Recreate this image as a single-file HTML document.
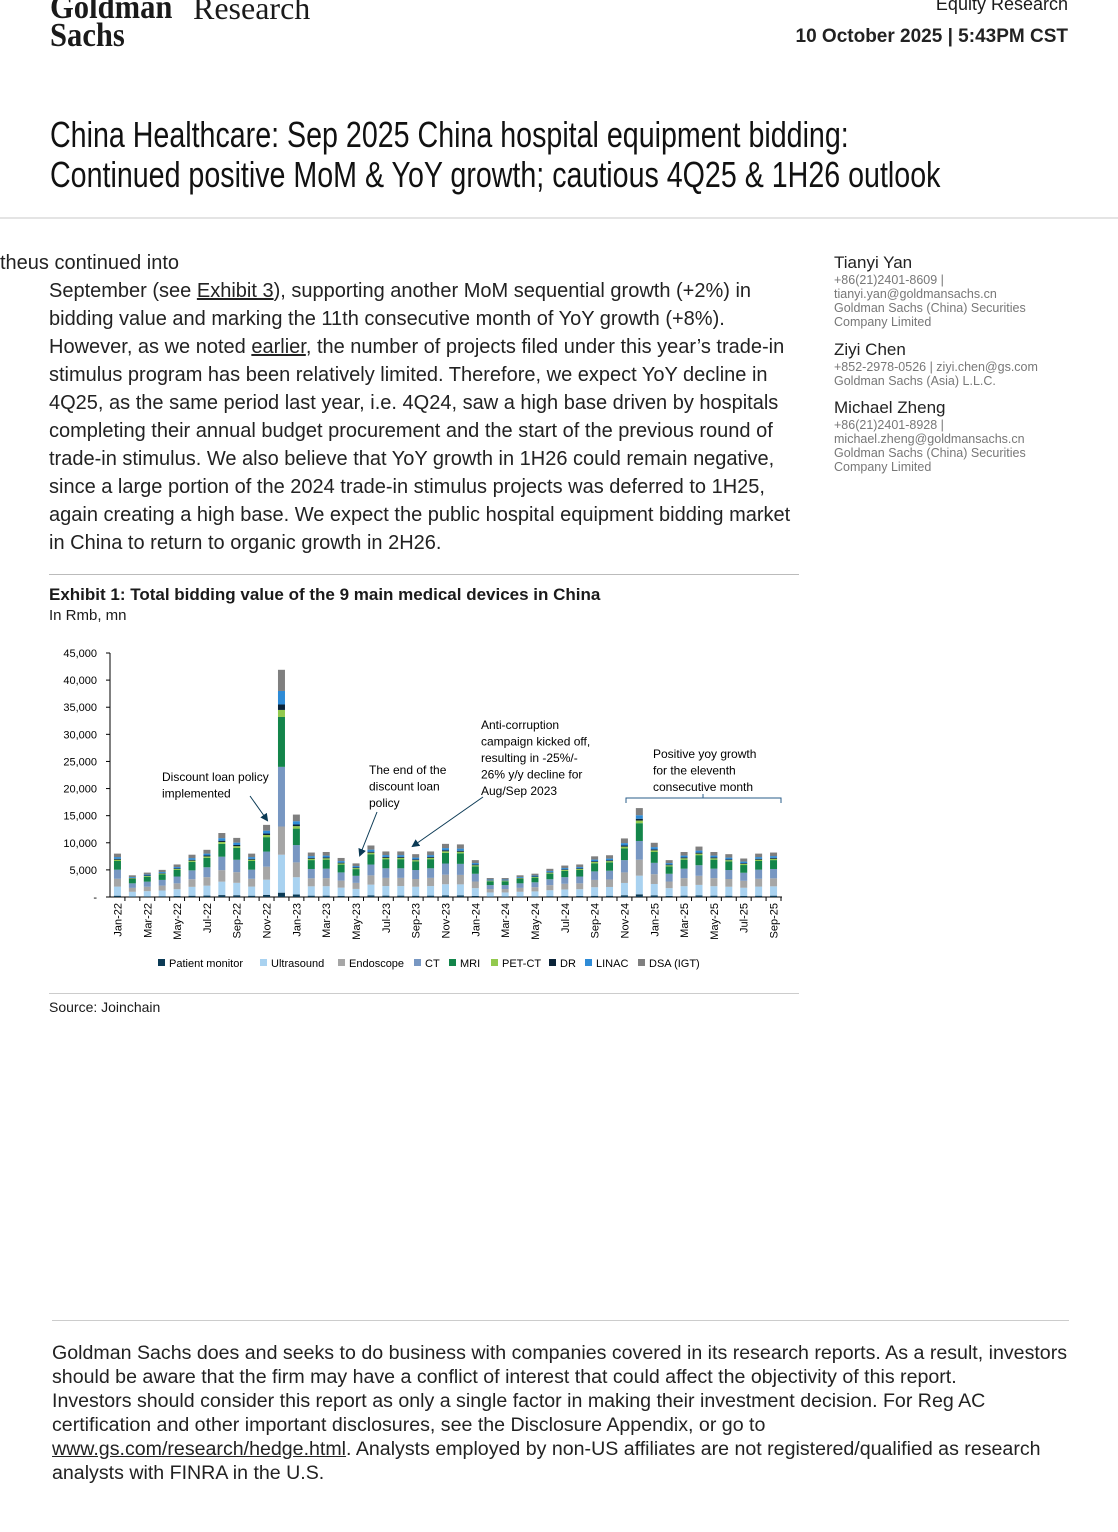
<!DOCTYPE html>
<html><head><meta charset="utf-8">
<style>
body{margin:0;width:1118px;height:1532px;background:#fff;font-family:"Liberation Sans",sans-serif;color:#1a1a1a;position:relative;overflow:hidden}
.a{position:absolute;white-space:nowrap}
.logo{font-family:"Liberation Serif",serif;font-weight:bold;font-size:34px;line-height:28px;transform:scaleX(0.9);transform-origin:left}
.title{left:50px;font-size:36px;transform:scaleX(0.795);transform-origin:left;color:#111}
.body{left:49px;font-size:20px;line-height:28px;color:#222}
.auth{left:834px;font-size:12.5px;line-height:14px;color:#777}
.auth b{font-size:17px;color:#222;font-weight:normal;display:block;line-height:20px}
u{text-decoration:underline}
</style></head><body>
<div class="a logo" style="left:50px;top:-6px">Goldman<br>Sachs</div>
<div class="a" style="left:193px;top:-10px;font-family:'Liberation Serif',serif;font-size:32px">Research</div>
<div class="a" style="right:50px;top:-6px;font-size:18px">Equity Research</div>
<div class="a" style="right:50px;top:26px;font-size:19px;font-weight:bold;color:#222">10 October 2025 | 5:43PM CST</div>
<div class="a title" style="top:114px">China Healthcare: Sep 2025 China hospital equipment bidding:</div>
<div class="a title" style="top:154px">Continued positive MoM &amp; YoY growth; cautious 4Q25 &amp; 1H26 outlook</div>
<div class="a" style="left:0;top:217px;width:1118px;height:2px;background:#e4e4e4"></div>
<div class="a body" style="left:0;top:249px">theus continued into</div>
<div class="a body" style="top:277px">September (see <u>Exhibit 3</u>), supporting another MoM sequential growth (+2%) in<br>bidding value and marking the 11th consecutive month of YoY growth (+8%).<br>However, as we noted <u>earlier</u>, the number of projects filed under this year’s trade-in<br>stimulus program has been relatively limited. Therefore, we expect YoY decline in<br>4Q25, as the same period last year, i.e. 4Q24, saw a high base driven by hospitals<br>completing their annual budget procurement and the start of the previous round of<br>trade-in stimulus. We also believe that YoY growth in 1H26 could remain negative,<br>since a large portion of the 2024 trade-in stimulus projects was deferred to 1H25,<br>again creating a high base. We expect the public hospital equipment bidding market<br>in China to return to organic growth in 2H26.</div>
<div class="a auth" style="top:253px"><b>Tianyi Yan</b>+86(21)2401-8609 |<br>tianyi.yan@goldmansachs.cn<br>Goldman Sachs (China) Securities<br>Company Limited</div>
<div class="a auth" style="top:340px"><b>Ziyi Chen</b>+852-2978-0526 | ziyi.chen@gs.com<br>Goldman Sachs (Asia) L.L.C.</div>
<div class="a auth" style="top:398px"><b>Michael Zheng</b>+86(21)2401-8928 |<br>michael.zheng@goldmansachs.cn<br>Goldman Sachs (China) Securities<br>Company Limited</div>
<div class="a" style="left:49px;top:574px;width:750px;height:1px;background:#bbb"></div>
<div class="a" style="left:49px;top:585px;font-size:17px;font-weight:bold">Exhibit 1: Total bidding value of the 9 main medical devices in China</div>
<div class="a" style="left:49px;top:607px;font-size:15px">In Rmb, mn</div>
<svg class="a" style="left:0;top:0" width="1118" height="1000" id="ch"></svg>
<div class="a" style="left:49px;top:993px;width:750px;height:1px;background:#ccc"></div>
<div class="a" style="left:49px;top:999px;font-size:14px">Source: Joinchain</div>
<div class="a" style="left:52px;top:1320px;width:1017px;height:1px;background:#ccc"></div>
<div class="a" style="left:52px;top:1341px;font-size:19.6px;line-height:24px;color:#222">Goldman Sachs does and seeks to do business with companies covered in its research reports. As a result, investors<br>should be aware that the firm may have a conflict of interest that could affect the objectivity of this report.<br>Investors should consider this report as only a single factor in making their investment decision. For Reg AC<br>certification and other important disclosures, see the Disclosure Appendix, or go to<br><u>www.gs.com/research/hedge.html</u>. Analysts employed by non-US affiliates are not registered/qualified as research<br>analysts with FINRA in the U.S.</div>
<script>
var T=[8,4,4.5,5,6,7.8,8.7,11.8,10.9,8,13.3,42,15.2,8.2,8.3,7.2,6.2,9.5,8.4,8.4,7.9,8.4,9.8,9.7,6.8,3.5,3.5,4,4.3,5.2,5.8,6,7.5,7.7,10.8,16.4,10,6.8,8.3,9.3,8.3,7.9,7.1,8.0,8.2];
var C=['#0b3a55','#a9d2f0','#a6a6a6','#7897c2','#13854a','#92c94e','#0a2338','#2e8bd6','#7f7f7f'];
var F=[.03,.21,.18,.21,.2,.03,.02,.04,.08];
var D=[.8,7,5.2,11,9.2,1.3,1,2.5,3.9];
var s='',x0=110,y0=897,k=244/45,sw=671/45;
var yl=['-','5,000','10,000','15,000','20,000','25,000','30,000','35,000','40,000','45,000'];
for(var i=0;i<10;i++){var y=y0-i*5*k;s+='<line x1="106" x2="110" y1="'+y+'" y2="'+y+'" stroke="#000"/><text x="97" y="'+(y+4)+'" text-anchor="end" font-size="11" font-family="Liberation Sans">'+yl[i]+'</text>';}
s+='<line x1="110" x2="110" y1="653" y2="897" stroke="#000"/><line x1="110" x2="782" y1="897" y2="897" stroke="#000"/>';
var mn=['Jan','Mar','May','Jul','Sep','Nov'];
for(var j=0;j<45;j++){var cx=x0+sw*(j+.5),y=y0;var fr=j==11?D.map(function(v){return v/42}):F;
for(var c=0;c<9;c++){var h=T[j]*fr[c]*k;y-=h;s+='<rect x="'+(cx-3.5)+'" y="'+y+'" width="7" height="'+h+'" fill="'+C[c]+'"/>';}
s+='<line x1="'+(x0+sw*(j+1))+'" x2="'+(x0+sw*(j+1))+'" y1="897" y2="901" stroke="#000"/>';
if(j%2==0){var yr=22+Math.floor(j/12);s+='<text transform="translate('+(cx+4)+',903) rotate(-90)" text-anchor="end" font-size="11" font-family="Liberation Sans">'+mn[(j%12)/2]+'-'+yr+'</text>';}}
var lg=['Patient monitor','Ultrasound','Endoscope','CT','MRI','PET-CT','DR','LINAC','DSA (IGT)'],lx=[158,260,338,414,449,491,549,585,638];
for(var c=0;c<9;c++){s+='<rect x="'+lx[c]+'" y="959" width="7" height="7" fill="'+C[c]+'"/><text x="'+(lx[c]+11)+'" y="967" font-size="11" font-family="Liberation Sans">'+lg[c]+'</text>';}
function tx(x,y,a){a.forEach(function(t,i){s+='<text x="'+x+'" y="'+(y+i*16.5)+'" font-size="12" font-family="Liberation Sans">'+t+'</text>';});}
tx(162,781,['Discount loan policy','implemented']);
tx(369,774,['The end of the','discount loan','policy']);
tx(481,729,['Anti-corruption','campaign kicked off,','resulting in -25%/-','26% y/y decline for','Aug/Sep 2023']);
tx(653,758,['Positive yoy growth','for the eleventh','consecutive month']);
s+='<defs><marker id="m" markerWidth="8" markerHeight="8" refX="6" refY="4" orient="auto"><path d="M0,0L8,4L0,8z" fill="#0b3a55"/></marker></defs>';
s+='<line x1="250" y1="796" x2="267" y2="820" stroke="#0b3a55" marker-end="url(#m)"/>';
s+='<line x1="377" y1="812" x2="360" y2="855" stroke="#0b3a55" marker-end="url(#m)"/>';
s+='<line x1="483" y1="797" x2="413" y2="846" stroke="#0b3a55" marker-end="url(#m)"/>';
s+='<path d="M626,803V798H781V803M703,798V794" fill="none" stroke="#2a5c8a"/>';
document.getElementById('ch').innerHTML=s;
</script>
</body></html>
